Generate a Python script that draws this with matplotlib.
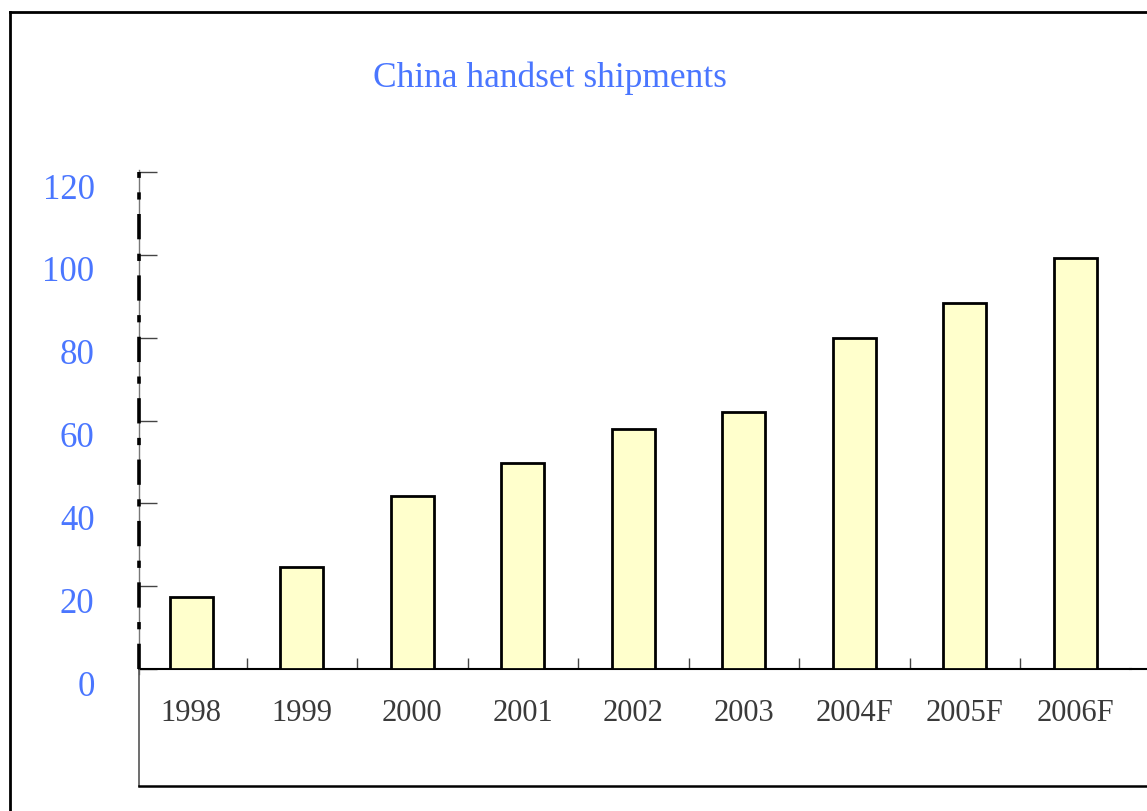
import matplotlib
matplotlib.use("Agg")
import matplotlib.pyplot as plt
from matplotlib.lines import Line2D
from matplotlib.transforms import ScaledTranslation

# data
years = ["1998", "1999", "2000", "2001", "2002", "2003", "2004F", "2005F", "2006F"]
shipments = [17.5, 24.7, 41.7, 49.8, 58.0, 62.0, 80.0, 88.3, 99.3]
yticks = [0, 20, 40, 60, 80, 100, 120]

W, H = 1147, 812
fig = plt.figure(figsize=(W / 100, H / 100), dpi=100)

blue = "#4a76ff"
grey_txt = "#3a3a3a"
serif = ["Liberation Serif", "DejaVu Serif"]

ax = fig.add_axes([136 / W, 1 - 670 / H, 994.5 / W, (670 - 173) / H])
x = list(range(len(years)))
ax.bar(x, shipments, width=0.39, color="#ffffcc", edgecolor="black", linewidth=2.0, zorder=3)

ax.set_xlim(-0.5, 8.5)
ax.set_ylim(0, 120)

yx = -0.5 + 3 / 110.5
for s in ["top", "right"]:
    ax.spines[s].set_visible(False)
ax.spines["left"].set_position(("data", yx))
ax.spines["left"].set_color("#777777")
ax.spines["left"].set_linewidth(1)
ax.spines["left"].set_bounds(-1.2, 120.5)
ax.spines["bottom"].set_color("black")
ax.spines["bottom"].set_linewidth(1.5)
ax.spines["bottom"].set_bounds(yx, 8.5)
ax.plot([yx, yx], [0, 120], color="black", lw=2.6, ls=(0, (7, 4, 2, 4)),
        clip_on=False, zorder=4)

# y axis
ax.set_yticks(yticks)
ax.set_yticklabels([str(v) for v in yticks], fontsize=25, color=blue, family=serif)
ax.tick_params(axis="y", direction="in", length=13, width=1, color="#444444", pad=32)
for lab in ax.get_yticklabels():
    lab.set_transform(lab.get_transform() + ScaledTranslation(0, -13 / 100, fig.dpi_scale_trans))

# x axis
ax.set_xticks(x)
ax.set_xticklabels(years, fontsize=22, color=grey_txt, family=serif)
ax.tick_params(axis="x", length=0, pad=21)
ax.set_xticks([i + 0.5 for i in range(len(years) - 1)], minor=True)
ax.tick_params(axis="x", which="minor", direction="in", length=8, width=1, color="#444444")

# category box below the axis
fig.add_artist(Line2D([139 / W, 139 / W], [1 - 671 / H, 1 - 787 / H], color="#555555", lw=1.2))
fig.add_artist(Line2D([139 / W, 1.0], [1 - 787 / H, 1 - 787 / H], color="black", lw=1.8))
fig.add_artist(Line2D([1130 / W, 1.0], [1 - 670 / H, 1 - 670 / H], color="black", lw=1.5))

# outer frame
fig.add_artist(Line2D([10 / W, 10 / W], [0, 1 - 13 / H], color="black", lw=2))
fig.add_artist(Line2D([10 / W, 1.0], [1 - 13 / H, 1 - 13 / H], color="black", lw=2))

fig.text(550 / W, 1 - 78 / H, "China handset shipments", ha="center", va="center",
         fontsize=25.5, color=blue, family=serif)

fig.savefig("out.png", dpi=100)
